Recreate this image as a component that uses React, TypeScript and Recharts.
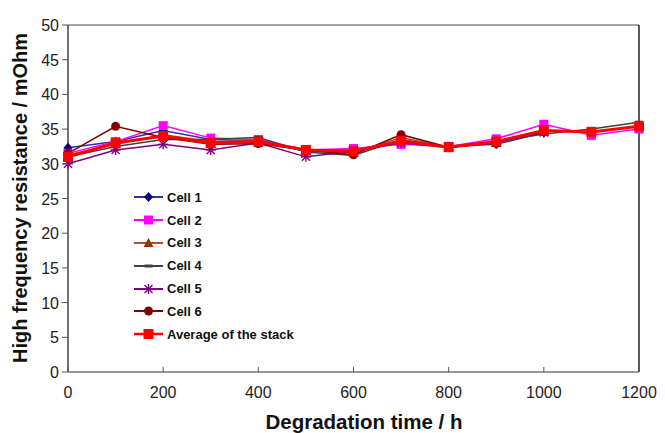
import React from 'react';
import { LineChart, Line, XAxis, YAxis, ReferenceLine, Legend, Label } from 'recharts';

// Degradation time in hours
const hours = [0, 100, 200, 300, 400, 500, 600, 700, 800, 900, 1000, 1100, 1200];

// High frequency resistance per cell, mOhm
const cell1 = [32.3, 33.2, 34.8, 33.5, 33.3, 31.8, 32.0, 33.2, 32.5, 32.8, 34.5, null, null];
const cell2 = [31.5, 33.2, 35.5, 33.7, 33.5, 32.0, 32.2, 32.8, 32.5, 33.6, 35.7, 34.1, 35.0];
const cell3 = [31.3, 32.8, 34.2, 33.2, 33.3, 31.8, 31.6, 33.8, 32.4, 33.0, 34.6, null, null];
const cell4 = [31.0, 32.5, 33.5, 33.5, 33.8, 31.7, 31.2, 33.5, 32.4, 33.2, 34.3, 35.0, 36.0];
const cell5 = [30.0, 32.0, 32.8, 32.0, 33.0, 31.0, 31.8, 33.0, 32.4, 33.2, 34.5, null, null];
const cell6 = [31.5, 35.4, 33.8, 32.8, 32.9, 32.0, 31.3, 34.2, 32.4, 33.0, 34.7, null, null];
const average = [31.0, 33.0, 34.0, 33.0, 33.2, 32.0, 31.8, 33.3, 32.4, 33.2, 34.8, 34.6, 35.4];

const xTicks = [0, 200, 400, 600, 800, 1000, 1200];
const yTicks = [0, 5, 10, 15, 20, 25, 30, 35, 40, 45, 50];

const data = hours.map((h, i) => ({
  h,
  c1: cell1[i],
  c2: cell2[i],
  c3: cell3[i],
  c4: cell4[i],
  c5: cell5[i],
  c6: cell6[i],
  avg: average[i],
}));

const FONT = 'Arial, "Liberation Sans", sans-serif';

type Shape = 'diamond' | 'square' | 'triangle' | 'dash' | 'star' | 'circle' | 'bigsquare';

const Marker = ({ shape, x, y, color }: { shape: Shape; x: number; y: number; color: string }) => {
  switch (shape) {
    case 'diamond':
      return <polygon points={`${x},${y - 5} ${x + 4.5},${y} ${x},${y + 5} ${x - 4.5},${y}`} fill={color} />;
    case 'square':
      return <rect x={x - 4.5} y={y - 4.5} width={9} height={9} fill={color} />;
    case 'bigsquare':
      return <rect x={x - 5} y={y - 5} width={10} height={10} fill={color} />;
    case 'triangle':
      return <polygon points={`${x},${y - 5} ${x + 5},${y + 4} ${x - 5},${y + 4}`} fill={color} />;
    case 'dash':
      return <rect x={x - 4} y={y - 1.5} width={8} height={3} fill={color} />;
    case 'star':
      return (
        <g stroke={color} strokeWidth={1.4}>
          <line x1={x - 5} y1={y} x2={x + 5} y2={y} />
          <line x1={x} y1={y - 5} x2={x} y2={y + 5} />
          <line x1={x - 4} y1={y - 4} x2={x + 4} y2={y + 4} />
          <line x1={x - 4} y1={y + 4} x2={x + 4} y2={y - 4} />
        </g>
      );
    case 'circle':
      return <circle cx={x} cy={y} r={4.5} fill={color} />;
    default:
      return null;
  }
};

const makeDot = (shape: Shape, color: string) => (props: any) => {
  const { cx, cy, index, value } = props;
  if (cx == null || cy == null || value == null) return <g key={`e-${index}`} />;
  return (
    <g key={`d-${shape}-${index}`}>
      <Marker shape={shape} x={cx} y={cy} color={color} />
    </g>
  );
};

const series = [
  { key: 'c1', name: 'Cell 1', line: '#33339a', marker: '#000080', shape: 'diamond' as Shape, width: 1.5 },
  { key: 'c2', name: 'Cell 2', line: '#ff00ff', marker: '#ff00ff', shape: 'square' as Shape, width: 1.5 },
  { key: 'c3', name: 'Cell 3', line: '#b0502a', marker: '#993300', shape: 'triangle' as Shape, width: 1.5 },
  { key: 'c4', name: 'Cell 4', line: '#404040', marker: '#404040', shape: 'dash' as Shape, width: 1.5 },
  { key: 'c5', name: 'Cell 5', line: '#800080', marker: '#800080', shape: 'star' as Shape, width: 1.5 },
  { key: 'c6', name: 'Cell 6', line: '#800000', marker: '#800000', shape: 'circle' as Shape, width: 1.5 },
  { key: 'avg', name: 'Average of the stack', line: '#ff0000', marker: '#ff0000', shape: 'bigsquare' as Shape, width: 3 },
];

const LegendBox = () => (
  <div style={{ fontFamily: FONT, fontWeight: 'bold', fontSize: 13 }}>
    {series.map((s) => (
      <div key={s.key} style={{ display: 'flex', alignItems: 'center', height: 22.8 }}>
        <svg width={33} height={14} style={{ display: 'block' }}>
          <line x1={0} y1={7} x2={29} y2={7} stroke={s.line} strokeWidth={s.width === 3 ? 2.5 : 2} />
          <Marker shape={s.shape} x={14.5} y={7} color={s.marker} />
        </svg>
        <span style={{ color: '#111' }}>{s.name}</span>
      </div>
    ))}
  </div>
);

const XTick = (props: any) => {
  const { x, y, payload } = props;
  const axisY = y - 8;
  return (
    <g>
      <line x1={x} y1={axisY} x2={x} y2={axisY - 5} stroke="#555" strokeWidth={1} />
      <text x={x} y={axisY + 26} textAnchor="middle" fontSize={16} fill="#222" fontFamily={FONT}>
        {payload.value}
      </text>
    </g>
  );
};

const YTick = (props: any) => {
  const { x, y, payload } = props;
  return (
    <g>
      <line x1={x + 4} y1={y} x2={x + 10} y2={y} stroke="#555" strokeWidth={1} />
      <text x={x + 1} y={y + 6} textAnchor="end" fontSize={16} fill="#222" fontFamily={FONT}>
        {payload.value}
      </text>
    </g>
  );
};

export default function App() {
  return (
    <div style={{ position: 'absolute', left: 0, top: 0, width: 665, height: 433, background: '#fff' }}>
      <LineChart width={665} height={433} data={data} margin={{ top: 25, right: 26, bottom: 0, left: 0 }}>
        <XAxis
          dataKey="h"
          type="number"
          domain={[0, 1200]}
          ticks={xTicks}
          interval={0}
          tickLine={false}
          tickSize={0}
          tickMargin={8}
          tick={<XTick />}
          height={61}
          axisLine={{ stroke: '#777', strokeWidth: 1.5 }}
        >
          <Label
            content={() => (
              <text x={364} y={429} textAnchor="middle" fontSize={20.5} fontWeight="bold" fill="#111" fontFamily={FONT}>
                Degradation time / h
              </text>
            )}
          />
        </XAxis>
        <YAxis
          type="number"
          domain={[0, 50]}
          ticks={yTicks}
          interval={0}
          width={68}
          tickLine={false}
          tickSize={0}
          tickMargin={10}
          tick={<YTick />}
          axisLine={{ stroke: '#444', strokeWidth: 1.5 }}
        >
          <Label
            content={() => (
              <text x={27} y={198} textAnchor="middle" fontSize={20} fontWeight="bold" fill="#111"
                transform="rotate(-90 27 198)" fontFamily={FONT}>
                High frequency resistance / mOhm
              </text>
            )}
          />
        </YAxis>
        <ReferenceLine y={50} stroke="#888" strokeWidth={1.5} />
        <ReferenceLine x={1200} stroke="#222" strokeWidth={1.5} />
        {series.map((s) => (
          <Line
            key={s.key}
            dataKey={s.key}
            name={s.name}
            stroke={s.line}
            strokeWidth={s.width}
            dot={makeDot(s.shape, s.marker)}
            activeDot={false}
            isAnimationActive={false}
            connectNulls={false}
          />
        ))}
        <Legend
          layout="vertical"
          verticalAlign="middle"
          align="center"
          content={<LegendBox />}
          wrapperStyle={{ position: 'absolute', left: 134, top: 186, width: 230, height: 'auto' }}
        />
      </LineChart>
    </div>
  );
}
